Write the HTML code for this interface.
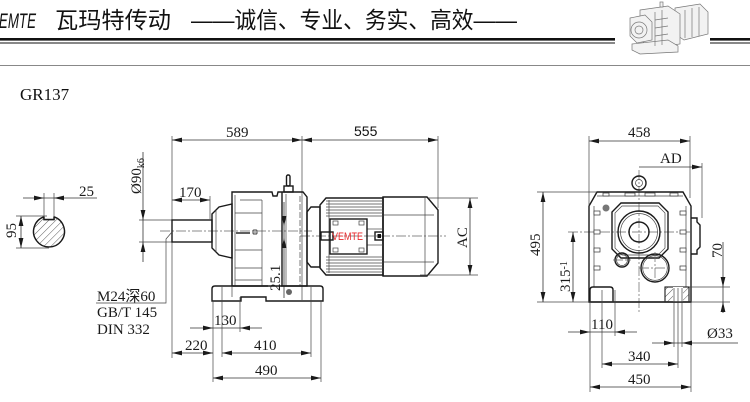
<!DOCTYPE html>
<html><head><meta charset="utf-8"><style>
html,body{margin:0;padding:0;background:#fff;}
svg{display:block;}
.o{fill:none;stroke:#1a1a1a;stroke-width:1.4;}
.t{fill:none;stroke:#444;stroke-width:0.7;}
.d{fill:none;stroke:#333;stroke-width:0.8;}
.c{fill:none;stroke:#666;stroke-width:0.7;stroke-dasharray:10 2 2 2;}
.s{font-family:"Liberation Serif",serif;font-size:15px;fill:#1a1a1a;}
.ah{fill:#1a1a1a;}
</style></head><body>
<svg width="750" height="402" viewBox="0 0 750 402" xmlns="http://www.w3.org/2000/svg">
<defs>
<marker id="a" markerUnits="userSpaceOnUse" markerWidth="10" markerHeight="6" refX="10" refY="3" orient="auto-start-reverse"><path d="M0,0.6 L10,3 L0,5.4 z" fill="#1a1a1a"/></marker>
<clipPath id="cc"><circle cx="49" cy="232" r="15.5"/></clipPath>
<pattern id="hp" patternUnits="userSpaceOnUse" width="5" height="5" patternTransform="rotate(45)"><line x1="0" y1="0" x2="0" y2="5" stroke="#333" stroke-width="0.8"/></pattern>
</defs>

<!-- header -->
<text x="-10" y="28" font-family="Liberation Sans,sans-serif" font-style="italic" font-size="21" textLength="46" lengthAdjust="spacingAndGlyphs" fill="#111">VEMTE</text>
<text x="55" y="28" font-family="Liberation Sans,'Noto Sans CJK SC',sans-serif" font-size="23" textLength="116" lengthAdjust="spacingAndGlyphs" fill="#111">瓦玛特传动</text>
<text x="191" y="28" font-family="Liberation Sans,'Noto Sans CJK SC',sans-serif" font-size="23" textLength="326" lengthAdjust="spacingAndGlyphs" fill="#111">——诚信、专业、务实、高效——</text>
<rect x="0" y="38" width="615" height="2.6" fill="#111"/>
<rect x="0" y="42.5" width="615" height="1" fill="#111"/>
<rect x="710" y="38" width="40" height="2.6" fill="#111"/>
<rect x="710" y="42.5" width="40" height="1" fill="#111"/>
<!-- thumbnail -->
<g fill="#f2f2f2" stroke="#777" stroke-width="0.7">
<polygon points="675,8 700,4 708,12 708,34 684,40 675,34"/>
<polygon points="640,10 668,6 680,14 680,44 652,48 640,40"/>
<polygon points="630,18 645,15 652,22 652,40 637,43 630,36"/>
<circle cx="639" cy="30" r="8"/>
<circle cx="639" cy="30" r="4"/>
<polygon points="632,44 668,40 678,46 678,52 640,54 632,50"/>
<line x1="655" y1="12" x2="655" y2="46"/><line x1="662" y1="10" x2="662" y2="45"/>
<line x1="655" y1="20" x2="668" y2="18"/><line x1="655" y1="28" x2="668" y2="26"/><line x1="655" y1="36" x2="668" y2="34"/>
<line x1="685" y1="10" x2="685" y2="38"/><line x1="692" y1="8" x2="692" y2="37"/><line x1="699" y1="7" x2="699" y2="36"/>
<rect x="660" y="2" width="3" height="5"/>
</g>
<line x1="0" y1="65.5" x2="750" y2="65.5" stroke="#888" stroke-width="1"/>

<text x="20" y="100" font-family="Liberation Serif,serif" font-size="17" fill="#111">GR137</text>

<!-- shaft section -->
<g clip-path="url(#cc)"><rect x="30" y="214" width="40" height="36" fill="url(#hp)"/></g>
<path class="o" d="M44,216.8 A15.5,15.5 0 1 0 54,216.8 L54,219.5 L44,219.5 Z" fill="none"/>
<rect x="44.5" y="214" width="9" height="5" fill="#fff"/>
<path class="o" d="M44,216.8 L44,219.5 L54,219.5 L54,216.8"/>
<line class="t" x1="44" y1="193" x2="44" y2="217"/><line class="t" x1="54" y1="193" x2="54" y2="217"/>
<line class="d" x1="23" y1="198" x2="97" y2="198"/>
<polygon class="ah" points="44,198 34,195.6 34,200.4"/><polygon class="ah" points="54,198 64,195.6 64,200.4"/>
<text class="s" x="79" y="196">25</text>
<line class="t" x1="16" y1="216" x2="47" y2="216"/><line class="t" x1="16" y1="248" x2="49" y2="248"/>
<line class="d" x1="21" y1="216" x2="21" y2="248" marker-start="url(#a)" marker-end="url(#a)"/>
<text class="s" transform="translate(16,238) rotate(-90)">95</text>

<!-- left view dims -->
<line class="t" x1="172" y1="136" x2="172" y2="358"/>
<line class="t" x1="302" y1="136" x2="302" y2="196"/>
<line class="t" x1="438" y1="136" x2="438" y2="208"/>
<line class="d" x1="172" y1="140" x2="302" y2="140" marker-start="url(#a)" marker-end="url(#a)"/>
<line class="d" x1="302" y1="140" x2="438" y2="140" marker-start="url(#a)" marker-end="url(#a)"/>
<text class="s" x="226" y="137">589</text>
<text x="354" y="136" font-family="Liberation Sans,sans-serif" font-size="14" fill="#111">555</text>
<line class="t" x1="210" y1="196" x2="210" y2="219"/>
<line class="d" x1="172" y1="200" x2="210" y2="200" marker-start="url(#a)" marker-end="url(#a)"/>
<text class="s" x="179" y="197">170</text>
<!-- Ø90 -->
<line class="t" x1="139" y1="220" x2="172" y2="220"/><line class="t" x1="139" y1="242" x2="172" y2="242"/>
<line class="d" x1="143" y1="152" x2="143" y2="262"/>
<polygon class="ah" points="143,220 140.6,210 145.4,210"/><polygon class="ah" points="143,242 140.6,252 145.4,252"/>
<text class="s" transform="translate(141,194) rotate(-90)">Ø90<tspan font-size="10" dy="3">k6</tspan></text>

<!-- centerlines -->
<line class="c" x1="160" y1="231" x2="312" y2="231"/>
<line class="c" x1="300" y1="236" x2="446" y2="236"/>

<!-- shaft & cone -->
<rect class="o" x="172" y="220" width="40" height="22" fill="#fff"/>
<polygon class="o" points="212,214 219,207 232,204 232,258 219,255 212,248" fill="#fff"/>
<line class="t" x1="216" y1="210" x2="216" y2="252"/>
<!-- gear housing -->
<path class="o" d="M232,286 L232,192 L272,192 L273,196 L277,196 L278,192 L303,192 L307,197 L307,286 Z" fill="#fff"/>
<line class="t" x1="235" y1="195" x2="235" y2="286"/>
<line class="t" x1="262" y1="200" x2="262" y2="286"/>
<line class="o" x1="282" y1="192" x2="282" y2="286"/>
<line class="t" x1="286" y1="194" x2="286" y2="286"/>
<line class="t" x1="300" y1="196" x2="300" y2="286" stroke-dasharray="6 2"/>
<line class="t" x1="235" y1="213" x2="262" y2="213"/>
<line class="t" x1="235" y1="250" x2="262" y2="250"/>
<line class="t" x1="235" y1="268" x2="262" y2="268"/>
<line class="t" x1="235" y1="280" x2="262" y2="280"/>
<line class="t" x1="240" y1="200" x2="262" y2="200"/>
<line class="o" x1="236" y1="233" x2="250" y2="233" stroke-width="0.9"/>
<circle cx="255" cy="232" r="3" fill="#666"/><line x1="251" y1="232" x2="259" y2="232" stroke="#fff" stroke-width="0.6"/><line x1="255" y1="228" x2="255" y2="236" stroke="#fff" stroke-width="0.6"/>
<circle cx="289" cy="292" r="3" fill="#666"/>
<!-- lifting eye -->
<rect class="o" x="286.5" y="175" width="3.5" height="11" rx="1.5" fill="#fff"/>
<rect class="o" x="284" y="186" width="9" height="6" fill="#fff" stroke-width="1"/>
<!-- 25.1 -->
<line class="d" x1="284" y1="202" x2="284" y2="298"/>
<polygon class="ah" points="284,226 281.6,216 286.4,216"/><polygon class="ah" points="284,238 281.6,248 286.4,248"/>
<rect x="268" y="262" width="13" height="30" fill="#fff"/>
<text class="s" transform="translate(280,291) rotate(-90)">25.1</text>
<!-- neck -->
<polygon class="o" points="307,212 311,207 320,207 320,267 311,267 307,262" fill="#fff"/>
<line class="t" x1="302" y1="196" x2="302" y2="300"/>
<!-- motor -->
<path class="o" d="M320,205 L326,198 L383,198 L383,275 L326,275 L320,268 Z" fill="#fff"/>
<path class="o" d="M383,197 L427,197 L438,210 L438,263 L427,276 L383,276 Z" fill="#fff"/>
<line class="o" x1="383" y1="197" x2="383" y2="276" stroke-width="1.8"/>
<line class="t" x1="384" y1="215" x2="434" y2="215"/>
<line class="t" x1="384" y1="262" x2="434" y2="262"/>
<line class="t" x1="425" y1="198" x2="425" y2="275"/>
<g class="t">
<line x1="326" y1="201" x2="383" y2="201"/><line x1="326" y1="204" x2="383" y2="204"/><line x1="326" y1="207" x2="383" y2="207"/><line x1="326" y1="210" x2="383" y2="210"/><line x1="326" y1="213" x2="383" y2="213"/><line x1="326" y1="216" x2="383" y2="216"/>
<line x1="326" y1="257" x2="383" y2="257"/><line x1="326" y1="260" x2="383" y2="260"/><line x1="326" y1="263" x2="383" y2="263"/><line x1="326" y1="266" x2="383" y2="266"/><line x1="326" y1="269" x2="383" y2="269"/><line x1="326" y1="272" x2="383" y2="272"/>
<line x1="367" y1="229" x2="383" y2="229"/><line x1="367" y1="245" x2="383" y2="245"/>
<line x1="329" y1="200" x2="329" y2="273"/>
</g>
<rect class="o" x="330" y="219" width="37" height="35" fill="#fff" stroke-width="1"/>
<rect class="t" x="333" y="221" width="5" height="4"/><rect class="t" x="359" y="221" width="5" height="4"/>
<rect class="t" x="333" y="248" width="5" height="4"/><rect class="t" x="359" y="248" width="5" height="4"/>
<rect class="o" x="321" y="232" width="12" height="8" fill="#fff" stroke-width="1"/>
<rect class="o" x="375" y="232" width="8" height="8" fill="#fff" stroke-width="1"/>
<rect x="377.5" y="234" width="3.5" height="4" fill="#111"/>
<text x="332" y="240" font-family="Liberation Sans,sans-serif" font-size="11" textLength="31" lengthAdjust="spacingAndGlyphs" fill="#e8282b">VEMTE</text>
<!-- AC -->
<line class="t" x1="428" y1="198" x2="478" y2="198"/><line class="t" x1="420" y1="275" x2="478" y2="275"/>
<line class="d" x1="470" y1="198" x2="470" y2="275" marker-start="url(#a)" marker-end="url(#a)"/>
<text class="s" transform="translate(467,248) rotate(-90)">AC</text>

<!-- foot -->
<path class="o" d="M215,286 L320,286 Q323,286 323,289 L323,301 L266,301 L266,297 L241,297 L241,301 L212,301 L212,289 Q212,286 215,286 Z" fill="#fff"/>
<line class="t" x1="232" y1="286" x2="232" y2="297"/>
<line class="t" x1="213" y1="301" x2="213" y2="382"/>
<line class="t" x1="222" y1="287" x2="222" y2="357"/>
<line class="t" x1="240" y1="297" x2="240" y2="332"/>
<line class="t" x1="311" y1="287" x2="311" y2="357"/>
<line class="t" x1="321" y1="301" x2="321" y2="382"/>
<!-- M24 -->
<polyline class="t" points="172,232 166,239 166,303 96,303"/>
<text class="s" x="97" y="301" font-family="Liberation Serif,'Noto Serif CJK SC',serif">M24深60</text>
<text class="s" x="97" y="317">GB/T 145</text>
<text class="s" x="97" y="334">DIN 332</text>
<!-- 130 220 410 490 -->
<line class="d" x1="190" y1="328" x2="262" y2="328"/>
<polygon class="ah" points="213,328 203,325.6 203,330.4"/><polygon class="ah" points="240,328 250,325.6 250,330.4"/>
<text class="s" x="214" y="325">130</text>
<line class="d" x1="172" y1="353" x2="213" y2="353" marker-start="url(#a)" marker-end="url(#a)"/>
<line class="d" x1="222" y1="353" x2="311" y2="353" marker-start="url(#a)" marker-end="url(#a)"/>
<text class="s" x="185" y="350">220</text>
<text class="s" x="254" y="350">410</text>
<line class="d" x1="213" y1="378" x2="321" y2="378" marker-start="url(#a)" marker-end="url(#a)"/>
<text class="s" x="255" y="375">490</text>

<!-- right view -->
<line class="c" x1="639" y1="170" x2="639" y2="312"/>
<line class="c" x1="568" y1="232" x2="692" y2="232"/>
<path class="o" d="M597,192 L683,192 L691,206 L691,302 L589,302 L589,206 Z" fill="none"/>
<line class="t" x1="594" y1="206" x2="594" y2="287"/><line class="t" x1="686" y1="206" x2="686" y2="287"/>
<line class="t" x1="597" y1="196" x2="683" y2="196"/>
<g fill="#fff" stroke="#333" stroke-width="0.7">
<rect x="603" y="193" width="6" height="3"/><rect x="625" y="193" width="10" height="3"/><rect x="645" y="193" width="10" height="3"/><rect x="670" y="193" width="8" height="3"/>
<rect x="594" y="211" width="6" height="4"/><rect x="594" y="230" width="6" height="4"/><rect x="594" y="248" width="6" height="4"/><rect x="594" y="266" width="6" height="4"/>
<rect x="680" y="211" width="6" height="4"/><rect x="680" y="230" width="6" height="4"/><rect x="680" y="248" width="6" height="4"/><rect x="680" y="266" width="6" height="4"/>
</g>
<polygon class="o" points="621,203 659,203 668,212 668,249 659,258 621,258 612,249 612,212" stroke-width="1.1"/>
<polygon class="t" points="622,206 658,206 665,213 665,248 658,255 622,255 615,248 615,213"/>
<circle class="o" cx="639" cy="232" r="21" stroke-width="1.1"/>
<circle class="t" cx="639" cy="232" r="18.5"/>
<circle class="o" cx="639" cy="232" r="10" stroke-width="1"/>
<circle class="o" cx="622" cy="260" r="7" fill="#fff" stroke-width="1"/>
<circle class="t" cx="622" cy="260" r="5.5"/>
<circle class="o" cx="655" cy="268" r="14" fill="#fff" stroke-width="1.1"/>
<circle class="t" cx="655" cy="268" r="12.3"/>
<line class="c" x1="639" y1="268" x2="671" y2="268"/><line class="c" x1="655" y1="252" x2="655" y2="284"/>
<line class="c" x1="613" y1="260" x2="631" y2="260"/>
<circle cx="606" cy="208" r="3.5" fill="#777"/>
<path class="o" d="M691,218 L697,218 L697,222 L700,225 L700,247 L697,250 L697,254 L691,254" fill="#fff" stroke-width="1.1"/>
<circle class="o" cx="639" cy="183" r="7" fill="#fff" stroke-width="1.2"/>
<circle class="t" cx="639" cy="183" r="3.5"/>
<path class="o" d="M590,302 L590,290 Q590,287 593,287 L610,287 Q613,287 613,290 L613,302" fill="#fff" stroke-width="1.1"/>
<rect x="665" y="287" width="24" height="15" fill="url(#hp)" stroke="#1a1a1a" stroke-width="1.1"/>
<rect x="673" y="287" width="10" height="15" fill="#fff"/>
<line class="t" x1="674" y1="288" x2="674" y2="347"/><line class="t" x1="682" y1="288" x2="682" y2="347"/>
<line class="t" x1="678" y1="288" x2="678" y2="368"/>
<line class="o" x1="589" y1="302" x2="691" y2="302" stroke-width="1.6"/>
<!-- right dims -->
<line class="t" x1="589" y1="136" x2="589" y2="206"/>
<line class="t" x1="690" y1="136" x2="690" y2="198"/>
<line class="d" x1="589" y1="141" x2="690" y2="141" marker-start="url(#a)" marker-end="url(#a)"/>
<text class="s" x="628" y="137">458</text>
<line class="t" x1="702" y1="163" x2="702" y2="218"/>
<line class="d" x1="639" y1="167" x2="702" y2="167" marker-end="url(#a)"/>
<text class="s" x="660" y="163">AD</text>
<line class="t" x1="537" y1="192" x2="597" y2="192"/>
<line class="t" x1="537" y1="302" x2="730" y2="302"/>
<line class="d" x1="543" y1="192" x2="543" y2="302" marker-start="url(#a)" marker-end="url(#a)"/>
<text class="s" transform="translate(540,256) rotate(-90)">495</text>
<line class="d" x1="573" y1="232" x2="573" y2="302" marker-start="url(#a)" marker-end="url(#a)"/>
<text class="s" transform="translate(570,292) rotate(-90)">315<tspan font-size="10" dy="-3">-1</tspan></text>
<line class="t" x1="689" y1="287" x2="730" y2="287"/>
<line class="d" x1="723" y1="242" x2="723" y2="313"/>
<polygon class="ah" points="723,287 720.6,277 725.4,277"/><polygon class="ah" points="723,302 720.6,312 725.4,312"/>
<text class="s" transform="translate(722,258) rotate(-90)">70</text>
<line class="t" x1="590" y1="302" x2="590" y2="392"/>
<line class="t" x1="615" y1="290" x2="615" y2="336"/>
<line class="t" x1="602" y1="290" x2="602" y2="368"/>
<line class="t" x1="691" y1="302" x2="691" y2="392"/>
<line class="d" x1="568" y1="332" x2="637" y2="332"/>
<polygon class="ah" points="590,332 580,329.6 580,334.4"/><polygon class="ah" points="615,332 625,329.6 625,334.4"/>
<text class="s" x="591" y="329">110</text>
<line class="d" x1="652" y1="343" x2="738" y2="343"/>
<polygon class="ah" points="674,343 664,340.6 664,345.4"/><polygon class="ah" points="682,343 692,340.6 692,345.4"/>
<text class="s" x="707" y="338">Ø33</text>
<line class="d" x1="602" y1="364" x2="678" y2="364" marker-start="url(#a)" marker-end="url(#a)"/>
<text class="s" x="628" y="361">340</text>
<line class="d" x1="590" y1="387" x2="691" y2="387" marker-start="url(#a)" marker-end="url(#a)"/>
<text class="s" x="628" y="384">450</text>
</svg>
</body></html>
